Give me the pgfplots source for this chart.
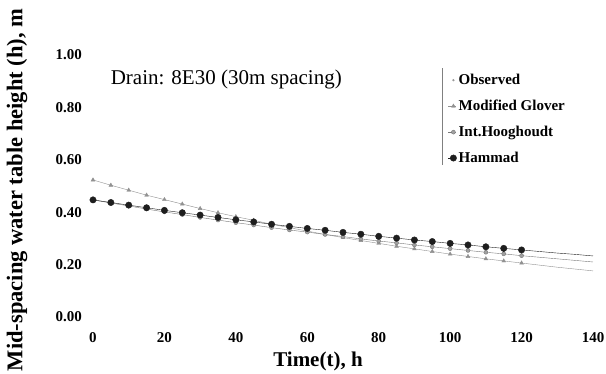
\documentclass[border=0pt]{standalone}
\usepackage{pgfplots}
\pgfplotsset{compat=1.18}
\usepackage{fontspec}
\setmainfont{Liberation Serif}

\definecolor{obsgray}{RGB}{150,150,150}
\definecolor{glovgray}{RGB}{145,145,145}
\definecolor{hoogray}{RGB}{120,120,120}
\definecolor{hamblack}{RGB}{30,30,30}

\begin{document}
\begin{tikzpicture}
\useasboundingbox (-93pt,-57pt) rectangle (513pt,317pt);
\begin{axis}[
  scale only axis,
  width=500pt, height=262pt,
  xmin=0, xmax=140, ymin=0, ymax=1,
  axis line style={draw=none},
  tick style={draw=none},
  xtick={0,20,...,140},
  ytick={0,0.2,0.4,0.6,0.8,1},
  yticklabels={0.00,0.20,0.40,0.60,0.80,1.00},
  /pgf/number format/assume math mode=true,
  xticklabel style={font=\fontsize{15}{15}\selectfont\bfseries, anchor=center, yshift=-21pt},
  yticklabel style={font=\fontsize{15}{15}\selectfont\bfseries, anchor=east, inner sep=0pt, xshift=-11pt},
  clip=false,
  legend cell align=left,
  legend style={at={(0.71,0.935)}, anchor=north west, draw=none, fill=none,
    font=\fontsize{15}{15}\selectfont\bfseries, inner sep=0pt, row sep=10pt,
    /tikz/every even column/.append style={column sep=3pt}},
  legend image code/.code={
    \draw[#1, mark repeat=2, mark phase=2] plot coordinates {(0pt,0pt) (5pt,0pt) (8pt,0pt)};
  },
]

% Observed
\addplot[only marks, mark=*, mark size=0.9pt, color=obsgray] coordinates {
(0,0.447) (5,0.440) (10,0.430) (15,0.420) (20,0.410) (25,0.395) (30,0.385)
(35,0.375) (40,0.365) (45,0.355) (50,0.345) (55,0.337) (60,0.328) (65,0.320)
(70,0.312) (75,0.305) (80,0.297) (85,0.290) (90,0.283) (95,0.276) (100,0.270)
(105,0.263) (110,0.257) (115,0.251) (120,0.245)
};
\addlegendentry{Observed}

% Modified Glover
\addplot[color=glovgray, thin, mark=triangle*, mark size=2.2pt,
  mark options={fill=glovgray}] coordinates {
(0,0.523) (5,0.503) (10,0.484) (15,0.465) (20,0.448) (25,0.431) (30,0.414)
(35,0.398) (40,0.383) (45,0.369) (50,0.354) (55,0.341) (60,0.328) (65,0.315)
(70,0.303) (75,0.292) (80,0.281) (85,0.270) (90,0.260) (95,0.250) (100,0.240)
(105,0.231) (110,0.222) (115,0.214) (120,0.206)
};
\addlegendentry{Modified Glover}

% Int. Hooghoudt
\addplot[color=hoogray, thin, mark=*, mark size=2.0pt,
  mark options={fill=hoogray!70}] coordinates {
(0,0.447) (5,0.435) (10,0.424) (15,0.412) (20,0.401) (25,0.391) (30,0.380)
(35,0.370) (40,0.360) (45,0.351) (50,0.341) (55,0.332) (60,0.324) (65,0.315)
(70,0.307) (75,0.298) (80,0.290) (85,0.283) (90,0.275) (95,0.268) (100,0.261)
(105,0.254) (110,0.247) (115,0.241) (120,0.234)
};
\addlegendentry{Int.Hooghoudt}

% Hammad
\addplot[color=hamblack, thin, mark=*, mark size=3.2pt,
  mark options={fill=hamblack}] coordinates {
(0,0.447) (5,0.437) (10,0.427) (15,0.417) (20,0.407) (25,0.398) (30,0.389)
(35,0.380) (40,0.371) (45,0.363) (50,0.354) (55,0.346) (60,0.338) (65,0.331)
(70,0.323) (75,0.316) (80,0.308) (85,0.301) (90,0.294) (95,0.288) (100,0.281)
(105,0.275) (110,0.268) (115,0.262) (120,0.256)
};
\addlegendentry{Hammad}

% predicted curves continued past the last observation
\addplot[forget plot, color=glovgray, thin] coordinates {
(120,0.206) (125,0.198) (130,0.190) (135,0.183) (140,0.176)};
\addplot[forget plot, color=hoogray, thin] coordinates {
(120,0.234) (125,0.228) (130,0.222) (135,0.216) (140,0.210)};
\addplot[forget plot, color=hamblack, thin] coordinates {
(120,0.256) (125,0.250) (130,0.244) (135,0.239) (140,0.233)};

% left rule of the legend
\draw[gray, thin] (axis cs:97.7,0.95) -- (axis cs:97.7,0.58);

\node[anchor=west, font=\fontsize{21}{21}\selectfont] at (axis cs:4,0.905) {Drain: 8E30 (30m spacing)};
\end{axis}
\node[font=\fontsize{21}{21}\selectfont\bfseries] at (225pt,-44pt) {Time(t), h};
\node[rotate=90, font=\fontsize{22.5}{22.5}\selectfont\bfseries] at (-76pt,127pt) {Mid-spacing water table height (h), m};
\end{tikzpicture}
\end{document}
